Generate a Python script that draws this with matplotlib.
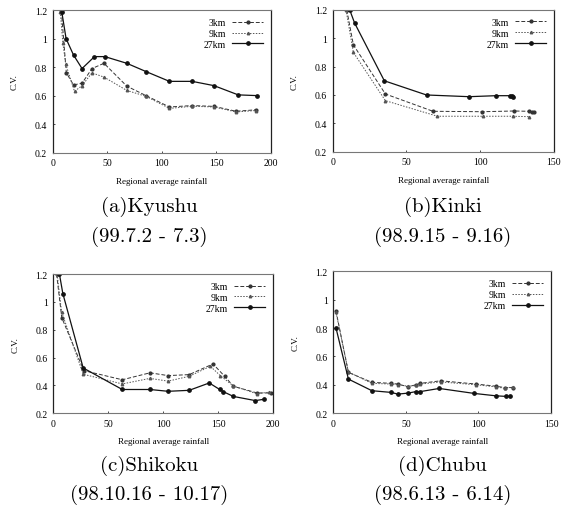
import numpy as np
import matplotlib
matplotlib.use('Agg')
import matplotlib.pyplot as plt
from matplotlib.ticker import FuncFormatter

plt.rcParams['font.family'] = ['Liberation Serif', 'DejaVu Serif']

# (a) Kyushu
ky_x27 = [8.3, 12.3, 19.1, 26.9, 38.3, 47.8, 67.9, 85.5, 107, 127.8, 147.8, 170, 187]
ky_y27 = [1.19, 1.0, 0.885, 0.79, 0.874, 0.874, 0.827, 0.769, 0.70, 0.70, 0.67, 0.605, 0.60]
ky_x3 = [8.0, 12.5, 19.1, 26.9, 36, 47, 68, 85.5, 107, 128, 148, 168, 186]
ky_y3 = [1.19, 0.76, 0.675, 0.687, 0.79, 0.827, 0.666, 0.60, 0.52, 0.53, 0.524, 0.49, 0.50]
ky_x9 = [7.0, 9.3, 12.0, 20.0, 26.9, 36, 47, 68, 85.5, 107, 128, 148, 168, 186]
ky_y9 = [1.19, 0.97, 0.82, 0.63, 0.67, 0.76, 0.73, 0.636, 0.595, 0.51, 0.525, 0.52, 0.485, 0.495]

# (b) Kinki
ki_x27 = [11.5, 14.8, 35, 63.6, 92.5, 110.7, 120, 121.5, 122.5]
ki_y27 = [1.2, 1.108, 0.70, 0.60, 0.588, 0.595, 0.595, 0.59, 0.585]
ki_x3 = [9.5, 14, 35.7, 68, 101, 123, 133, 135, 136.5]
ki_y3 = [1.2, 0.953, 0.607, 0.485, 0.482, 0.487, 0.485, 0.483, 0.48]
ki_x9 = [9, 14, 35.7, 71, 101.6, 122, 133]
ki_y9 = [1.2, 0.90, 0.56, 0.45, 0.45, 0.45, 0.447]

# (c) Shikoku
sh_x27 = [5.6, 8.7, 27.2, 62.8, 88, 104.5, 123.7, 142, 151.5, 154.6, 164, 184, 192]
sh_y27 = [1.2, 1.06, 0.525, 0.37, 0.37, 0.357, 0.364, 0.417, 0.37, 0.355, 0.32, 0.29, 0.30]
sh_x3 = [3, 7.7, 27.8, 62.8, 88, 104.5, 123.7, 145.4, 156, 164, 185.6, 198]
sh_y3 = [1.2, 0.887, 0.506, 0.44, 0.49, 0.47, 0.477, 0.554, 0.465, 0.393, 0.345, 0.345]
sh_x9 = [3.5, 7.5, 27.2, 62.8, 88, 104.5, 123.7, 143, 152, 164, 185, 196]
sh_y9 = [1.2, 0.93, 0.48, 0.41, 0.45, 0.43, 0.465, 0.537, 0.47, 0.395, 0.34, 0.35]

# (d) Chubu
ch_x27 = [1.85, 10.4, 26.6, 40, 44.4, 51.4, 57, 60, 73, 97, 112, 119, 121.5]
ch_y27 = [0.80, 0.44, 0.358, 0.346, 0.334, 0.341, 0.352, 0.352, 0.374, 0.339, 0.322, 0.318, 0.318]
ch_x3 = [1.85, 10.4, 26.6, 40, 44.4, 51.4, 57, 60, 74, 98.4, 112, 118, 124]
ch_y3 = [0.92, 0.487, 0.417, 0.41, 0.405, 0.386, 0.40, 0.41, 0.428, 0.405, 0.39, 0.38, 0.38]
ch_x9 = [1.85, 10.4, 26.6, 40, 44.4, 51.4, 57, 60, 74, 98.4, 112, 118, 124]
ch_y9 = [0.91, 0.49, 0.41, 0.405, 0.40, 0.39, 0.395, 0.405, 0.42, 0.40, 0.385, 0.375, 0.385]

labels = ['3km', '9km', '27km']
yticks = [0.2, 0.4, 0.6, 0.8, 1.0, 1.2]

panels = [
    dict(rect=[0.0934, 0.699, 0.387, 0.279], xmax=200, xt=[0, 50, 100, 150, 200],
         data=[(ky_x3, ky_y3), (ky_x9, ky_y9), (ky_x27, ky_y27)],
         cap=['(a)Kyushu', '(99.7.2 - 7.3)']),
    dict(rect=[0.590, 0.7006, 0.392, 0.278], xmax=150, xt=[0, 50, 100, 150],
         data=[(ki_x3, ki_y3), (ki_x9, ki_y9), (ki_x27, ki_y27)],
         cap=['(b)Kinki', '(98.9.15 - 9.16)']),
    dict(rect=[0.0945, 0.188, 0.3895, 0.2725], xmax=200, xt=[0, 50, 100, 150, 200],
         data=[(sh_x3, sh_y3), (sh_x9, sh_y9), (sh_x27, sh_y27)],
         cap=['(c)Shikoku', '(98.10.16 - 10.17)']),
    dict(rect=[0.591, 0.188, 0.386, 0.278], xmax=150, xt=[0, 50, 100, 150],
         data=[(ch_x3, ch_y3), (ch_x9, ch_y9), (ch_x27, ch_y27)],
         cap=['(d)Chubu', '(98.6.13 - 6.14)']),
]

styles = [
    dict(ls=(0, (4, 2)), marker='o', ms=2.0, lw=0.7, color='#333333'),
    dict(ls=(0, (1.5, 1.5)), marker='^', ms=1.8, lw=0.7, color='#555555'),
    dict(ls='-', marker='o', ms=2.4, lw=0.9, color='#111111'),
]

fig = plt.figure(figsize=(5.64, 5.10), dpi=100)

cap_y = {0: (0.594, 0.535), 1: (0.594, 0.535), 2: (0.086, 0.029), 3: (0.086, 0.029)}
cap_x = {0: 0.264, 1: 0.785, 2: 0.264, 3: 0.785}

for i, p in enumerate(panels):
    ax = fig.add_axes(p['rect'])
    for (x, y), st, lab in zip(p['data'], styles, labels):
        ax.plot(x, y, label=lab, **st)
    ax.set_xlim(0, p['xmax'])
    ax.set_ylim(0.2, 1.2)
    ax.set_xticks(p['xt'])
    ax.set_yticks(yticks)
    ax.yaxis.set_major_formatter(FuncFormatter(lambda v, pos: '%g' % v))
    ax.tick_params(direction='in', length=1.5, width=0.5, labelsize=7, pad=4)
    for side in ['top', 'bottom']:
        ax.spines[side].set_color('#777777')
        ax.spines[side].set_linewidth(0.8)
    for side in ['left', 'right']:
        ax.spines[side].set_color('#222222')
        ax.spines[side].set_linewidth(0.9)
    ax.set_xlabel('Regional average rainfall', fontsize=6.5, labelpad=7)
    ax.set_ylabel('C.V.', fontsize=6.5)
    ax.yaxis.set_label_coords(-0.155, 0.5)
    ax.legend(loc='upper right', frameon=False, markerfirst=False, fontsize=7,
              handlelength=3.2, labelspacing=0.2, handletextpad=0.6,
              borderaxespad=0.4)
    fig.text(cap_x[i], cap_y[i][0], p['cap'][0], family='cmr10', fontsize=15,
             ha='center', va='center')
    fig.text(cap_x[i], cap_y[i][1], p['cap'][1], family='cmr10', fontsize=15,
             ha='center', va='center')

fig.savefig('out.png', dpi=100)
